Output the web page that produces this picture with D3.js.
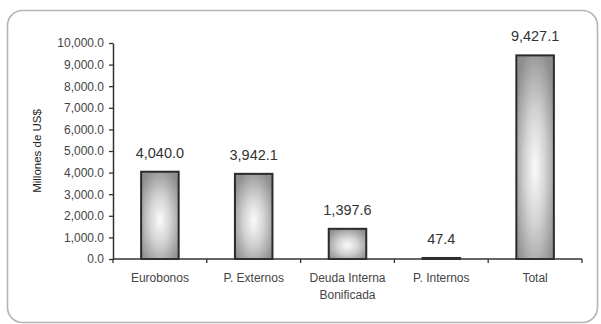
<!DOCTYPE html>
<html>
<head>
<meta charset="utf-8">
<script src="https://cdn.jsdelivr.net/npm/d3@7"></script>
<style>
  html, body { margin: 0; padding: 0; background: #fff; }
  svg { display: block; font-family: "Liberation Sans", Arial, sans-serif; }
</style>
</head>
<body>
<svg id="chart" width="601" height="324"></svg>
<script>
// Debt components, millions of US$
const categories = ["Eurobonos", "P. Externos", "Deuda Interna|Bonificada", "P. Internos", "Total"];
const values = [4040.0, 3942.1, 1397.6, 47.4, 9427.1];
const yTicks = [0, 1000, 2000, 3000, 4000, 5000, 6000, 7000, 8000, 9000, 10000];
const yTitle = "Millones de US$";

const svg = d3.select("#chart");

// rounded frame around the whole chart
svg.append("rect")
  .attr("x", 7.5).attr("y", 10.5)
  .attr("width", 590).attr("height", 312)
  .attr("rx", 15).attr("ry", 15)
  .attr("fill", "none")
  .attr("stroke", "#b5b5b5")
  .attr("stroke-width", 1.6);

// bar fill: light centre fading to grey edges
const defs = svg.append("defs");
const grad = defs.append("radialGradient")
  .attr("id", "barFill")
  .attr("cx", "50%").attr("cy", "55%").attr("r", "62%");
grad.append("stop").attr("offset", "0%").attr("stop-color", "#fbfbfb");
grad.append("stop").attr("offset", "45%").attr("stop-color", "#d2d2d2");
grad.append("stop").attr("offset", "100%").attr("stop-color", "#8e8e8e");

const plot = { left: 113, right: 582, top: 43, bottom: 259 };

const x = d3.scaleBand()
  .domain(categories)
  .range([plot.left, plot.right])
  .paddingInner(0.6)
  .paddingOuter(0.3);

const y = d3.scaleLinear()
  .domain([0, 10000])
  .range([plot.bottom, plot.top]);

// y axis
const yAxis = svg.append("g")
  .attr("transform", `translate(${plot.left},0)`)
  .call(d3.axisLeft(y)
    .tickValues(yTicks)
    .tickFormat(d3.format(",.1f"))
    .tickSize(4)
    .tickSizeOuter(0)
    .tickPadding(5));
yAxis.select(".domain").attr("stroke", "#333").attr("stroke-width", 1.5);
yAxis.selectAll(".tick line").attr("stroke", "#333").attr("stroke-width", 1.3);
yAxis.selectAll(".tick text")
  .attr("fill", "#444")
  .style("font-size", "12px");

// y axis title
svg.append("text")
  .attr("transform", "translate(41,151) rotate(-90)")
  .attr("text-anchor", "middle")
  .attr("fill", "#222")
  .style("font-size", "11.5px")
  .text(yTitle);

// bars
svg.append("g").selectAll("rect")
  .data(values)
  .join("rect")
  .attr("x", (d, i) => x(categories[i]))
  .attr("y", d => y(d))
  .attr("width", x.bandwidth())
  .attr("height", d => y(0) - y(d))
  .attr("fill", "url(#barFill)")
  .attr("stroke", "#2b2b2b")
  .attr("stroke-width", 2);

// x axis line with ticks at category boundaries
const xAxis = svg.append("g");
xAxis.append("line")
  .attr("x1", plot.left).attr("x2", x.range()[1])
  .attr("y1", y(0)).attr("y2", y(0))
  .attr("stroke", "#333").attr("stroke-width", 1.5);
const bounds = d3.range(categories.length + 1).map(i => x.range()[0] + i * x.step());
xAxis.selectAll("line.tick")
  .data(bounds)
  .join("line")
  .attr("class", "tick")
  .attr("x1", d => d).attr("x2", d => d)
  .attr("y1", y(0)).attr("y2", y(0) + 4)
  .attr("stroke", "#333").attr("stroke-width", 1.3);

// category labels (| splits lines)
const catLabels = svg.append("g").selectAll("text")
  .data(categories)
  .join("text")
  .attr("x", d => x(d) + x.bandwidth() / 2)
  .attr("y", 282)
  .attr("text-anchor", "middle")
  .attr("fill", "#444")
  .style("font-size", "12px");
catLabels.each(function (d) {
  const t = d3.select(this);
  d.split("|").forEach((line, i) => {
    t.append("tspan")
      .attr("x", x(d) + x.bandwidth() / 2)
      .attr("dy", i === 0 ? 0 : 17)
      .text(line);
  });
});

// value labels above bars
svg.append("g").selectAll("text")
  .data(values)
  .join("text")
  .attr("x", (d, i) => x(categories[i]) + x.bandwidth() / 2)
  .attr("y", d => y(d) - 14)
  .attr("text-anchor", "middle")
  .attr("fill", "#333")
  .style("font-size", "14.5px")
  .text(d => d3.format(",.1f")(d));
</script>
</body>
</html>
